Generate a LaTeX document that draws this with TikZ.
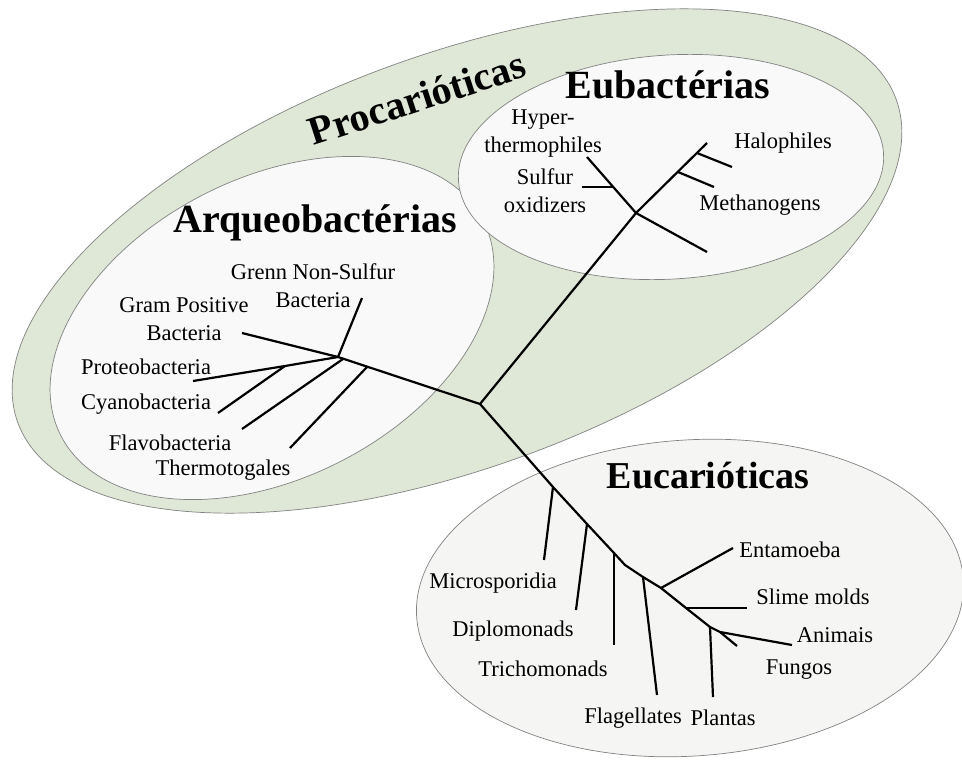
\documentclass[tikz,border=0pt]{standalone}
\usepackage{fontspec}
\setmainfont{Liberation Serif}
\definecolor{procgreen}{RGB}{223,231,214}
\definecolor{innerfill}{RGB}{249,249,249}
\definecolor{eucfill}{RGB}{245,245,243}
\definecolor{edgegray}{RGB}{130,130,130}
\begin{document}
\begin{tikzpicture}[x=1pt,y=-1pt,
  region/.style={draw=edgegray, line width=0.7pt},
  branch/.style={line width=2.2pt, black},
  lbl/.style={font=\fontsize{22.5}{28}\selectfont, inner sep=0pt, align=center},
  ttl/.style={font=\fontsize{40}{44}\selectfont\bfseries, inner sep=0pt}
]
\useasboundingbox (0,0) rectangle (962,760);

% regions
\draw[region, fill=procgreen, rotate around={20.25:(457,261)}] (457,261) ellipse [x radius=468pt, y radius=206pt];
\draw[region, fill=innerfill, rotate around={27:(272,328)}] (272,328) ellipse [x radius=237pt, y radius=150pt];
\draw[region, fill=innerfill, rotate around={3.7:(671,167)}] (671,167) ellipse [x radius=213pt, y radius=112pt];
\draw[region, fill=eucfill, rotate around={4:(690,598)}] (690,598) ellipse [x radius=274pt, y radius=158pt];

% tree coordinates
\coordinate (R) at (480,404);
% Eubacterias
\coordinate (EA) at (636,213);
\coordinate (ETop) at (707,143);
\coordinate (EH) at (697,153);
\coordinate (EHend) at (732,167);
\coordinate (EM) at (678,172);
\coordinate (EMend) at (714,187);
\coordinate (EDown) at (707,252);
\coordinate (EUL) at (587,157);
\coordinate (ES) at (613,187);
\coordinate (ESend) at (582,187);
% Arqueobacterias
\coordinate (AB) at (338,357);
\coordinate (AT) at (367,367);
\coordinate (ATend) at (290,448);
\coordinate (AGN) at (362,298);
\coordinate (AGP) at (242,333);
\coordinate (AF) at (343,359);
\coordinate (AFend) at (242,429);
\coordinate (AP) at (285,366);
\coordinate (APend) at (193,381);
\coordinate (ACend) at (218,413);
% Eucarioticas
\coordinate (K1) at (553,487);
\coordinate (K1end) at (544,560);
\coordinate (K2) at (587,524);
\coordinate (K2end) at (576,610);
\coordinate (K3) at (614,553);
\coordinate (K3end) at (614,645);
\coordinate (Kb) at (625,565);
\coordinate (K4) at (643,577);
\coordinate (K4end) at (657,695);
\coordinate (K5) at (661,588);
\coordinate (K5end) at (733,548);
\coordinate (K6) at (686,608);
\coordinate (K6end) at (747,608);
\coordinate (K7) at (710,627);
\coordinate (K7end) at (713,697);
\coordinate (K8) at (720,632);
\coordinate (K8end) at (792,645);
\coordinate (K9end) at (737,646);

% branches
\draw[branch] (R) -- (EA) -- (ETop);
\draw[branch] (EH) -- (EHend);
\draw[branch] (EM) -- (EMend);
\draw[branch] (EA) -- (EDown);
\draw[branch] (EA) -- (EUL);
\draw[branch] (ES) -- (ESend);

\draw[branch] (R) -- (AB);
\draw[branch] (AT) -- (ATend);
\draw[branch] (AB) -- (AGN);
\draw[branch] (AB) -- (AGP);
\draw[branch] (AF) -- (AFend);
\draw[branch] (AB) -- (AP) -- (APend);
\draw[branch] (AP) -- (ACend);

\draw[branch] (R) -- (K1) -- (K2) -- (K3) -- (Kb) -- (K4) -- (K5) -- (K6) -- (K7) -- (K8) -- (K9end);
\draw[branch] (K1) -- (K1end);
\draw[branch] (K2) -- (K2end);
\draw[branch] (K3) -- (K3end);
\draw[branch] (K4) -- (K4end);
\draw[branch] (K5) -- (K5end);
\draw[branch] (K6) -- (K6end);
\draw[branch] (K7) -- (K7end);
\draw[branch] (K8) -- (K8end);

% titles
\node[ttl, rotate=18] (tproc) at (417,98) {Procarióticas};
\node[ttl] (teub) at (668,85) {Eubactérias};
\node[ttl] (tarq) at (315,223) {Arqueobactérias};
\node[ttl, font=\fontsize{38}{42}\selectfont\bfseries] (teuc) at (708,476) {Eucarióticas};

% Eubacterias labels
\node[lbl] (lhyp) at (543,134) {Hyper-\\thermophiles};
\node[lbl] (lsul) at (545,191) {Sulfur\\oxidizers};
\node[lbl] (lhal) at (783,143) {Halophiles};
\node[lbl] (lmet) at (760,205) {Methanogens};

% Arqueobacterias labels
\node[lbl] (lgns) at (313,286) {Grenn Non-Sulfur\\Bacteria};
\node[lbl] (lgpb) at (184,319) {Gram Positive\\Bacteria};
\node[lbl] (lpro) at (146,367) {Proteobacteria};
\node[lbl] (lcya) at (146,404) {Cyanobacteria};
\node[lbl] (lfla) at (170,443) {Flavobacteria};
\node[lbl] (lthe) at (223,470) {Thermotogales};

% Eucarioticas labels
\node[lbl] (lent) at (790,550) {Entamoeba};
\node[lbl] (lsli) at (813,597) {Slime molds};
\node[lbl] (lani) at (835,635) {Animais};
\node[lbl] (lfun) at (799,670) {Fungos};
\node[lbl] (lmic) at (493,583) {Microsporidia};
\node[lbl] (ldip) at (513,631) {Diplomonads};
\node[lbl] (ltri) at (543,669) {Trichomonads};
\node[lbl] (lflg) at (633,718) {Flagellates};
\node[lbl] (lpla) at (723,718) {Plantas};
\end{tikzpicture}
\end{document}
